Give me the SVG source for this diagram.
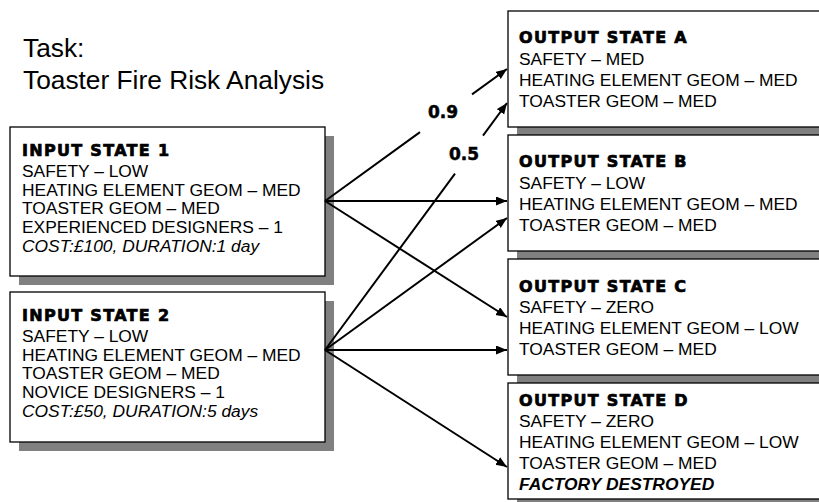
<svg xmlns="http://www.w3.org/2000/svg" width="819" height="502" viewBox="0 0 819 502">
<style>
.box{fill:#fff;stroke:#000;stroke-width:1.3}
.shadow{fill:#808080}
.t{font-family:"Liberation Sans",Arial,sans-serif;font-size:17.4px;fill:#000}
.h{font-family:"DejaVu Sans","Liberation Sans",sans-serif;font-weight:bold;font-size:16px;letter-spacing:1.3px;fill:#000;stroke:#000;stroke-width:0.7}
.it{font-style:italic}
.bi{font-style:italic;font-weight:bold}
.title{font-family:"Liberation Sans",Arial,sans-serif;font-size:26.3px;fill:#000}
.lbl{font-family:"DejaVu Sans","Liberation Sans",sans-serif;font-weight:bold;font-size:17px;fill:#000;stroke:#000;stroke-width:0.5}
.c{fill:none;stroke:#000;stroke-width:2}
</style>
<defs>
<marker id="ah" markerUnits="userSpaceOnUse" markerWidth="12" markerHeight="10" refX="11" refY="4.5" orient="auto">
<path d="M0,0 L11,4.5 L0,9 z" fill="#000"/>
</marker>
</defs>
<rect width="819" height="502" fill="#fff"/>
<g id="heading">
<text class="title" x="23" y="57">Task:</text>
<text class="title" x="23" y="89">Toaster Fire Risk Analysis</text>
</g>
<g id="input1">
<rect class="shadow" x="19" y="136" width="315" height="149"/>
<rect class="box" x="10" y="127" width="315" height="149"/>
<text class="h" x="22" y="156">INPUT STATE 1</text>
<text class="t" x="22" y="176.7">SAFETY – LOW</text>
<text class="t" x="22" y="195.5">HEATING ELEMENT GEOM – MED</text>
<text class="t" x="22" y="214.3">TOASTER GEOM – MED</text>
<text class="t" x="22" y="233">EXPERIENCED DESIGNERS – 1</text>
<text class="t it" x="22" y="251.5">COST:£100, DURATION:1 day</text>
</g>
<g id="input2">
<rect class="shadow" x="19" y="301" width="315" height="150"/>
<rect class="box" x="10" y="292" width="315" height="150"/>
<text class="h" x="22" y="321">INPUT STATE 2</text>
<text class="t" x="22" y="341.7">SAFETY – LOW</text>
<text class="t" x="22" y="360.5">HEATING ELEMENT GEOM – MED</text>
<text class="t" x="22" y="379.3">TOASTER GEOM – MED</text>
<text class="t" x="22" y="398">NOVICE DESIGNERS – 1</text>
<text class="t it" x="22" y="416.7">COST:£50, DURATION:5 days</text>
</g>
<g id="outputA">
<rect class="shadow" x="517" y="20" width="320" height="116"/>
<rect class="box" x="508" y="11" width="320" height="116"/>
<text class="h" x="519" y="43">OUTPUT STATE A</text>
<text class="t" x="519" y="64.5">SAFETY – MED</text>
<text class="t" x="519" y="85.5">HEATING ELEMENT GEOM – MED</text>
<text class="t" x="519" y="106.5">TOASTER GEOM – MED</text>
</g>
<g id="outputB">
<rect class="shadow" x="517" y="144" width="320" height="116"/>
<rect class="box" x="508" y="135" width="320" height="116"/>
<text class="h" x="519" y="167">OUTPUT STATE B</text>
<text class="t" x="519" y="188.5">SAFETY – LOW</text>
<text class="t" x="519" y="209.5">HEATING ELEMENT GEOM – MED</text>
<text class="t" x="519" y="230.5">TOASTER GEOM – MED</text>
</g>
<g id="outputC">
<rect class="shadow" x="517" y="268" width="320" height="116"/>
<rect class="box" x="508" y="259" width="320" height="116"/>
<text class="h" x="519" y="291.5">OUTPUT STATE C</text>
<text class="t" x="519" y="313">SAFETY – ZERO</text>
<text class="t" x="519" y="334">HEATING ELEMENT GEOM – LOW</text>
<text class="t" x="519" y="355">TOASTER GEOM – MED</text>
</g>
<g id="outputD">
<rect class="shadow" x="517" y="392" width="320" height="116"/>
<rect class="box" x="508" y="383" width="320" height="116"/>
<text class="h" x="519" y="405.5">OUTPUT STATE D</text>
<text class="t" x="519" y="426.7">SAFETY – ZERO</text>
<text class="t" x="519" y="447.8">HEATING ELEMENT GEOM – LOW</text>
<text class="t" x="519" y="468.8">TOASTER GEOM – MED</text>
<text class="t bi" x="519" y="489.5">FACTORY DESTROYED</text>
</g>
<g id="connectors">
<path class="c" d="M325,201 L420,132.1 M472,94.4 L507,69" marker-end="url(#ah)"/>
<path class="c" d="M325,201 L507,201" marker-end="url(#ah)"/>
<path class="c" d="M325,201 L507,317" marker-end="url(#ah)"/>
<path class="c" d="M325,350 L455,173.6 M483,135.6 L507,103" marker-end="url(#ah)"/>
<path class="c" d="M325,350 L507,218" marker-end="url(#ah)"/>
<path class="c" d="M325,350 L507,350" marker-end="url(#ah)"/>
<path class="c" d="M325,350 L507,467" marker-end="url(#ah)"/>
<text class="lbl" x="428" y="118">0.9</text>
<text class="lbl" x="449" y="160">0.5</text>
</g>
</svg>
